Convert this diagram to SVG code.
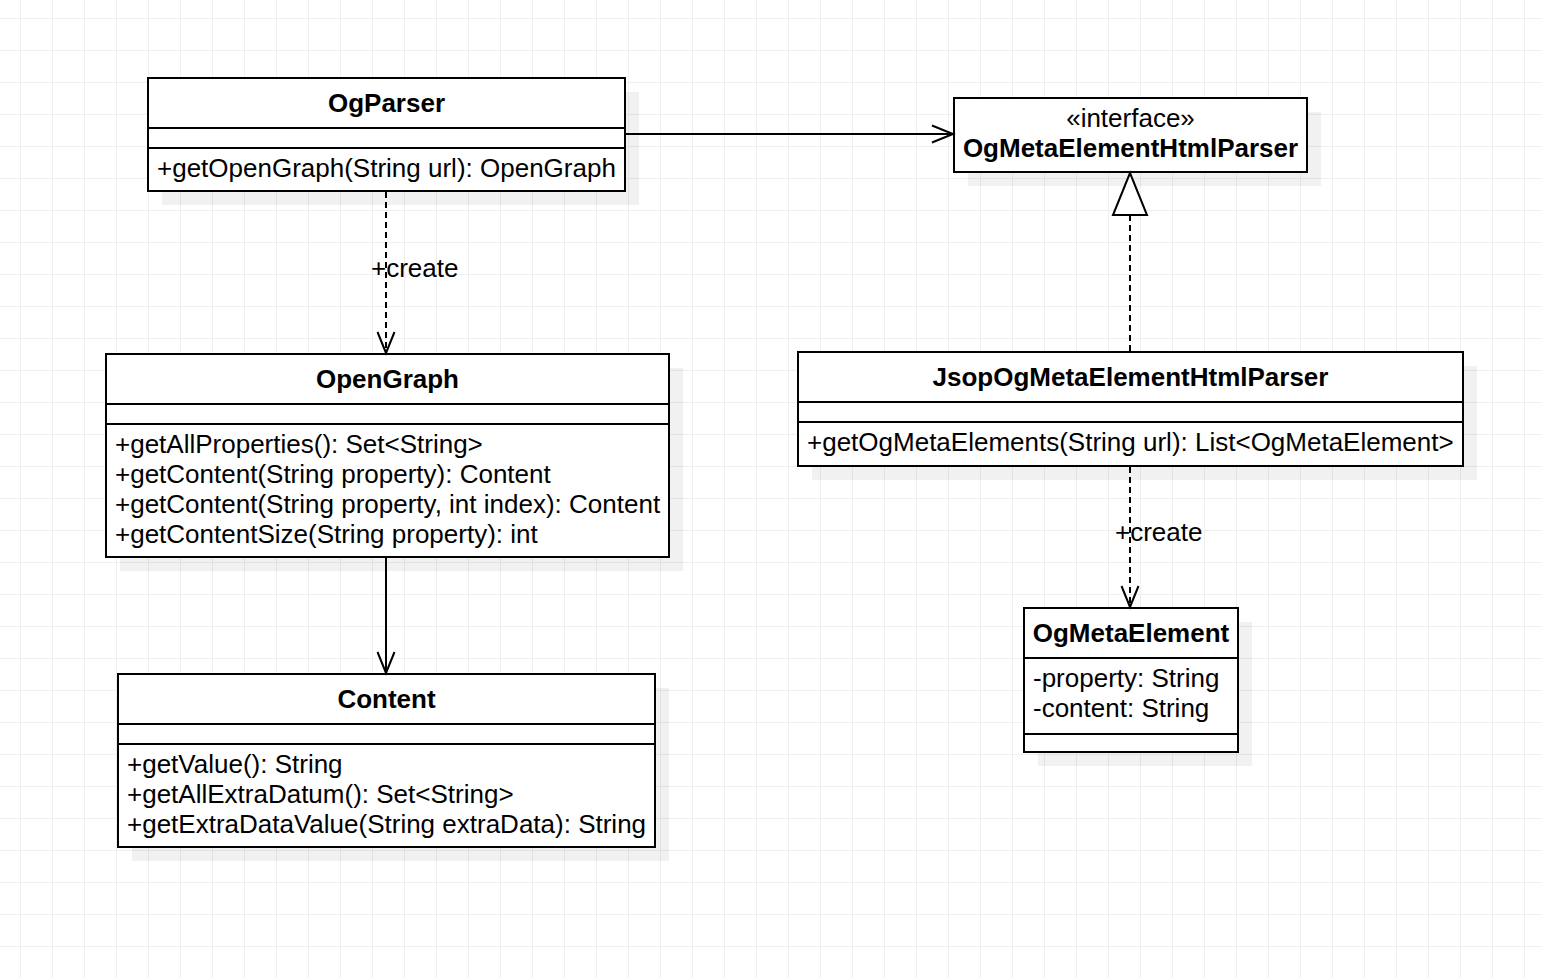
<svg xmlns="http://www.w3.org/2000/svg" width="1542" height="978" viewBox="0 0 1542 978">
<style>
.box{fill:#fff;stroke:#000;stroke-width:2}
.shadow{fill:#000;fill-opacity:0.055}
.div{stroke:#000;stroke-width:2}
.t{font-family:"Liberation Sans",Arial,sans-serif;font-size:26px;fill:#000}
.b{font-weight:bold}
.c{text-anchor:middle}
.edge{fill:none;stroke:#000;stroke-width:2}
.dash{stroke-dasharray:6 4}
.head{fill:none;stroke:#000;stroke-width:2}
</style>
<defs>
<pattern id="grid" x="20" y="18" width="32" height="32" patternUnits="userSpaceOnUse">
<path d="M0.5 0 V32 M0 0.5 H32" stroke="#efefef" stroke-width="1" fill="none"/>
</pattern>
</defs>
<rect width="1542" height="978" fill="#fff"/>
<rect width="1542" height="978" fill="url(#grid)"/>

<g id="OgParser">
<rect class="shadow" x="162" y="92" width="477" height="113"/>
<rect class="box" x="148" y="78" width="477" height="113"/>
<line class="div" x1="148" y1="128" x2="625" y2="128"/>
<line class="div" x1="148" y1="148" x2="625" y2="148"/>
<text class="t b c" x="386.5" y="112">OgParser</text>
<text class="t" x="157" y="177">+getOpenGraph(String url): OpenGraph</text>
</g>

<g id="OgMetaElementHtmlParser">
<rect class="shadow" x="968" y="112" width="353" height="74"/>
<rect class="box" x="954" y="98" width="353" height="74"/>
<text class="t c" x="1130.5" y="127">«interface»</text>
<text class="t b c" x="1130.5" y="157">OgMetaElementHtmlParser</text>
</g>

<g id="OpenGraph">
<rect class="shadow" x="120" y="368" width="563" height="203"/>
<rect class="box" x="106" y="354" width="563" height="203"/>
<line class="div" x1="106" y1="404" x2="669" y2="404"/>
<line class="div" x1="106" y1="424" x2="669" y2="424"/>
<text class="t b c" x="387.5" y="388">OpenGraph</text>
<text class="t" x="115" y="453">+getAllProperties(): Set&lt;String&gt;</text>
<text class="t" x="115" y="483">+getContent(String property): Content</text>
<text class="t" x="115" y="513">+getContent(String property, int index): Content</text>
<text class="t" x="115" y="543">+getContentSize(String property): int</text>
</g>

<g id="Content">
<rect class="shadow" x="132" y="688" width="537" height="173"/>
<rect class="box" x="118" y="674" width="537" height="173"/>
<line class="div" x1="118" y1="724" x2="655" y2="724"/>
<line class="div" x1="118" y1="744" x2="655" y2="744"/>
<text class="t b c" x="386.5" y="708">Content</text>
<text class="t" x="127" y="773">+getValue(): String</text>
<text class="t" x="127" y="803">+getAllExtraDatum(): Set&lt;String&gt;</text>
<text class="t" x="127" y="833">+getExtraDataValue(String extraData): String</text>
</g>

<g id="JsopOgMetaElementHtmlParser">
<rect class="shadow" x="812" y="366" width="665" height="114"/>
<rect class="box" x="798" y="352" width="665" height="114"/>
<line class="div" x1="798" y1="402" x2="1463" y2="402"/>
<line class="div" x1="798" y1="422" x2="1463" y2="422"/>
<text class="t b c" x="1130.5" y="386">JsopOgMetaElementHtmlParser</text>
<text class="t" x="807" y="451">+getOgMetaElements(String url): List&lt;OgMetaElement&gt;</text>
</g>

<g id="OgMetaElement">
<rect class="shadow" x="1038" y="622" width="214" height="144"/>
<rect class="box" x="1024" y="608" width="214" height="144"/>
<line class="div" x1="1024" y1="658" x2="1238" y2="658"/>
<line class="div" x1="1024" y1="734" x2="1238" y2="734"/>
<text class="t b c" x="1131" y="642">OgMetaElement</text>
<text class="t" x="1033" y="687">-property: String</text>
<text class="t" x="1033" y="717">-content: String</text>
</g>

<g id="connectors">
<line class="edge" x1="625" y1="134" x2="952" y2="134"/>
<polyline class="head" points="932,125.5 953,134 932,142.5"/>

<line class="edge dash" x1="386" y1="192" x2="386" y2="352"/>
<polyline class="head" points="377.5,332 386,353 394.5,332"/>
<text class="t" x="371" y="277">+create</text>

<line class="edge" x1="386" y1="558" x2="386" y2="672"/>
<polyline class="head" points="377.5,652 386,673 394.5,652"/>

<line class="edge dash" x1="1130" y1="351" x2="1130" y2="216"/>
<polygon points="1130,173 1113,215 1147,215" fill="#fff" stroke="#000" stroke-width="2"/>

<line class="edge dash" x1="1130" y1="467" x2="1130" y2="606"/>
<polyline class="head" points="1121.5,586 1130,607 1138.5,586"/>
<text class="t" x="1115" y="541">+create</text>
</g>
</svg>
